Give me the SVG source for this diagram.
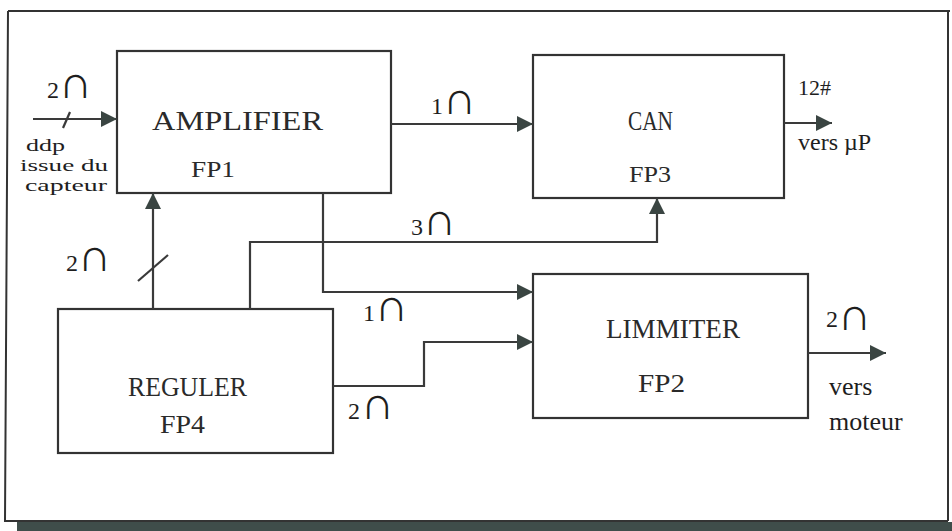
<svg xmlns="http://www.w3.org/2000/svg" width="952" height="531" viewBox="0 0 952 531">
<defs>
<marker id="ah" markerUnits="userSpaceOnUse" markerWidth="17" markerHeight="16" refX="16" refY="8" orient="auto">
<path d="M0,0 L16,8 L0,16 z" fill="#3a4542"/>
</marker>
<style>
.box{fill:#fff;stroke:#333;stroke-width:2.2}
.ln{fill:none;stroke:#3a3a3a;stroke-width:2.2}
.bl{font-family:"Liberation Serif","DejaVu Serif",serif;fill:#2a2a2a}
.ser{font-family:"Liberation Serif","DejaVu Serif",serif;fill:#1e1e1e}
.num{font-family:"Liberation Serif","DejaVu Serif",serif;fill:#1e1e1e;font-size:24px}
.cap{font-size:46px}
</style>
</defs>
<rect width="952" height="531" fill="#fff"/>
<rect x="17" y="522" width="935" height="9" fill="#3f4d4a"/>
<path d="M8,11 H950 M8,11 L5,521 H948 M948,11 V521" fill="none" stroke="#333" stroke-width="2"/>

<g id="amplifier">
<rect class="box" x="117" y="51" width="274" height="142"/>
<text class="bl" x="152" y="130" font-size="27" textLength="171" lengthAdjust="spacingAndGlyphs">AMPLIFIER</text>
<text class="bl" x="191" y="177" font-size="23" textLength="44" lengthAdjust="spacingAndGlyphs">FP1</text>
</g>
<g id="can">
<rect class="box" x="533" y="55" width="251" height="143"/>
<text class="bl" x="628" y="130" font-size="27" textLength="45" lengthAdjust="spacingAndGlyphs">CAN</text>
<text class="bl" x="629" y="182" font-size="23" textLength="42" lengthAdjust="spacingAndGlyphs">FP3</text>
</g>
<g id="regulator">
<rect class="box" x="58" y="309" width="275" height="144"/>
<text class="bl" x="128" y="396" font-size="28" textLength="119" lengthAdjust="spacingAndGlyphs">REGULER</text>
<text class="bl" x="160" y="433" font-size="26" textLength="45" lengthAdjust="spacingAndGlyphs">FP4</text>
</g>
<g id="limiter">
<rect class="box" x="533" y="274" width="275" height="144"/>
<text class="bl" x="606" y="338" font-size="27" textLength="134" lengthAdjust="spacingAndGlyphs">LIMMITER</text>
<text class="bl" x="638" y="392" font-size="25" textLength="47" lengthAdjust="spacingAndGlyphs">FP2</text>
</g>

<g id="connectors">
<path class="ln" d="M33,119 H117" marker-end="url(#ah)"/>
<path class="ln" d="M63,128 L70,112"/>
<path class="ln" d="M391,124 H533" marker-end="url(#ah)"/>
<path class="ln" d="M784,123 H832" marker-end="url(#ah)"/>
<path class="ln" d="M153,309 V193" marker-end="url(#ah)"/>
<path class="ln" d="M138,281 L168,255"/>
<path class="ln" d="M250,309 V242 H657 V198" marker-end="url(#ah)"/>
<path class="ln" d="M323,193 V292 H533" marker-end="url(#ah)"/>
<path class="ln" d="M333,386 H424 V342 H533" marker-end="url(#ah)"/>
<path class="ln" d="M808,353 H886" marker-end="url(#ah)"/>
</g>

<g id="labels">
<text class="num" x="47" y="98">2<tspan class="cap">∩</tspan></text>
<text class="ser" x="26" y="151" font-size="17" textLength="39" lengthAdjust="spacingAndGlyphs">ddp</text>
<text class="ser" x="20" y="171" font-size="17" textLength="88" lengthAdjust="spacingAndGlyphs">issue du</text>
<text class="ser" x="25" y="191" font-size="17" textLength="82" lengthAdjust="spacingAndGlyphs">capteur</text>
<text class="num" x="431" y="114">1<tspan class="cap">∩</tspan></text>
<text class="ser" x="798" y="95" font-size="22">12#</text>
<text class="ser" x="798" y="150" font-size="24">vers µP</text>
<text class="num" x="411" y="235">3<tspan class="cap">∩</tspan></text>
<text class="num" x="66" y="271">2<tspan class="cap">∩</tspan></text>
<text class="num" x="363" y="321">1<tspan class="cap">∩</tspan></text>
<text class="num" x="348" y="419">2<tspan class="cap" dx="1">∩</tspan></text>
<text class="num" x="826" y="327">2<tspan class="cap" dy="3">∩</tspan></text>
<text class="ser" x="829" y="395" font-size="26">vers</text>
<text class="ser" x="829" y="430" font-size="26">moteur</text>
</g>
</svg>
